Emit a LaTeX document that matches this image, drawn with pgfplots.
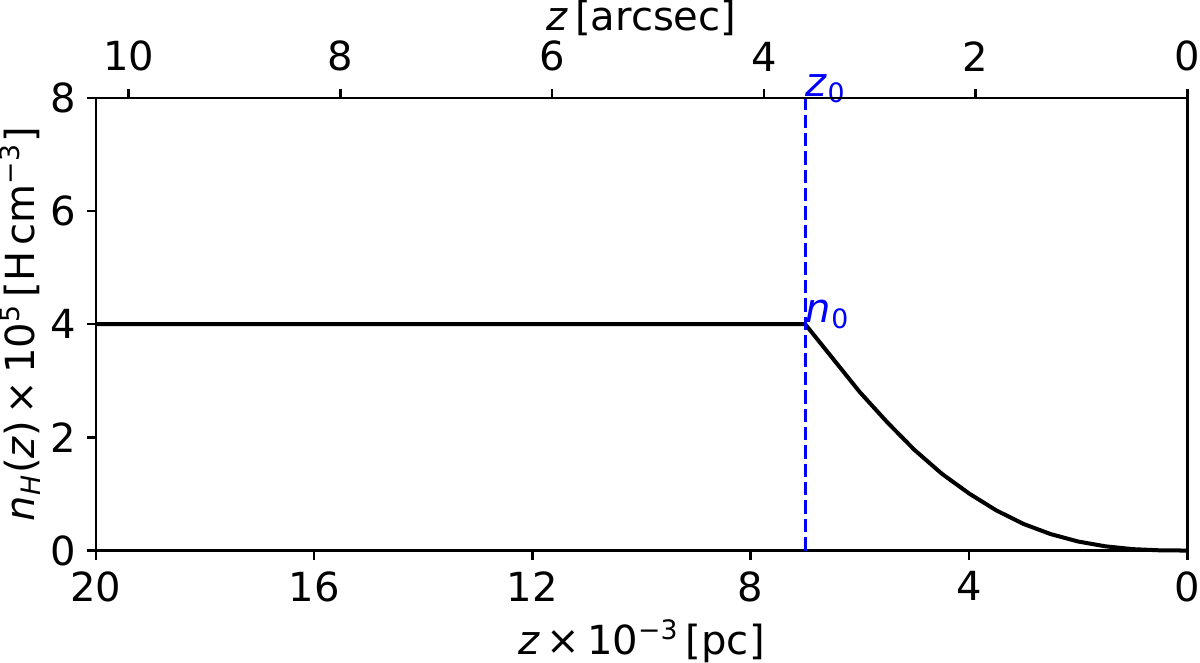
\documentclass[border=0pt]{standalone}
\usepackage{fontspec}
\setmainfont{DejaVu Sans}
\usepackage{pgfplots}
\pgfplotsset{compat=1.18}

\newcommand{\fs}{\fontsize{12}{14}\selectfont}

\begin{document}
\begin{tikzpicture}
\pgfplotsset{
  common/.style={
    scale only axis, width=326.7pt, height=135.5pt,
    ymin=0, ymax=8, x dir=reverse, clip=false,
    tick align=outside, major tick length=2.7pt,
    tick style={line width=0.75pt, black},
    axis line style={line width=0.75pt},
    ticklabel style={font=\fs, inner sep=0pt},
    label style={font=\fs},
    /pgf/number format/assume math mode=true,
  },
}
\begin{axis}[
  common,
  xmin=0, xmax=20,
  xtick={0,4,...,20}, ytick={0,2,...,8},
  xtick pos=bottom, ytick pos=left,
  yticklabel style={xshift=-3pt},
  xticklabel style={yshift=-3.3pt},
  xlabel={\textit{z}\,×\,10\textsuperscript{−3}\,[pc]},
  ylabel={\textit{n}\textsubscript{\textit{H}}(\textit{z})\,×\,10\textsuperscript{5}\,[H\,cm\textsuperscript{−3}]},
  xlabel style={at={(axis description cs:0.5,-0.2288)}, anchor=base, inner sep=0pt},
  ylabel style={at={(axis description cs:-0.0563,0.5)}, anchor=base, inner sep=0pt},
]
\addplot[black, line width=1.2pt] coordinates {
  (20,4) (7,4) (6.5,3.4) (6.0,2.8) (5.5,2.27) (5.0,1.78) (4.5,1.36)
  (4.0,1.01) (3.5,0.71) (3.0,0.47) (2.5,0.29) (2.0,0.16) (1.5,0.075)
  (1.0,0.025) (0.5,0.004) (0,0)
};
\addplot[blue, line width=1pt, dash pattern=on 4pt off 1.5pt] coordinates {(7,0) (7,8)};
\node[anchor=base west, blue, font=\fs, inner sep=0pt, yshift=0.6pt] at (axis cs:7,4) {\textit{n}\textsubscript{0}};
\node[anchor=base west, blue, font=\fs, inner sep=0pt, yshift=0.5pt] at (axis cs:7,8) {\textit{z}\textsubscript{0}};
\end{axis}
\begin{axis}[
  common,
  xmin=0, xmax=10.31,
  axis x line*=top, axis y line=none,
  xtick={0,2,...,10},
  xticklabel style={yshift=5pt},
  xlabel={\textit{z}\,[arcsec]},
  xlabel style={at={(axis description cs:0.5,1.149)}, anchor=base, inner sep=0pt},
]
\end{axis}
\end{tikzpicture}
\end{document}
